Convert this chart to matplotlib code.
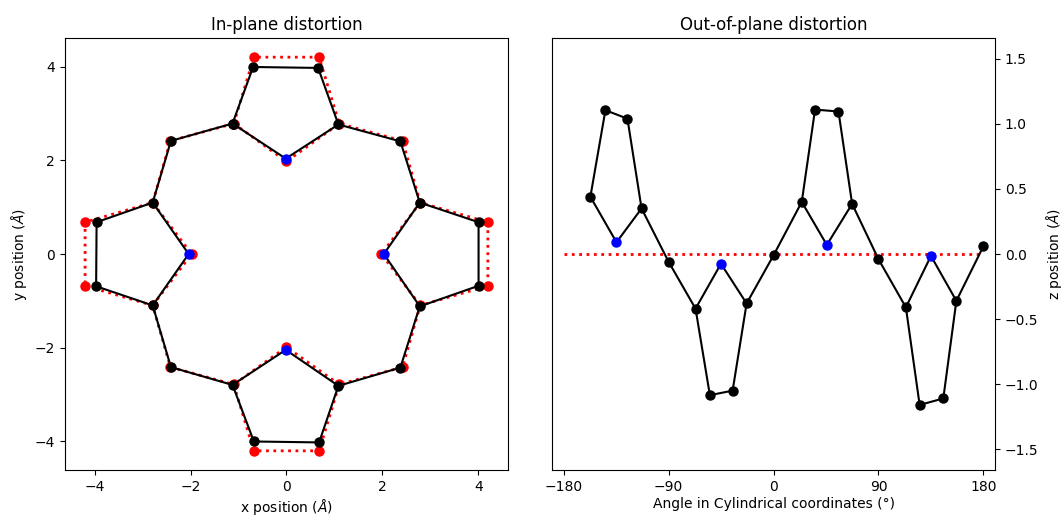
import numpy as np
import matplotlib
matplotlib.use('Agg')
import matplotlib.pyplot as plt

# in-plane positions of the 20 ring carbons (alpha, beta, beta, alpha, meso, ...)
ring_x = [-1.125, -0.696, 0.66, 1.083, 2.375, 2.78, 4.006, 4.006, 2.78, 2.375,
          1.083, 0.68, -0.68, -1.125, -2.41, -2.79, -3.97, -3.96, -2.79, -2.41]
ring_y = [2.79, 4.0, 3.98, 2.77, 2.41, 1.10, 0.68, -0.68, -1.12, -2.43,
          -2.82, -4.03, -4.01, -2.80, -2.42, -1.10, -0.69, 0.68, 1.10, 2.42]
n_x = [-0.015, 2.03, -0.015, -2.04]
n_y = [2.04, 0.0, -2.05, 0.0]

# reference (ideal) structure
ref_x = [-1.10, -0.68, 0.68, 1.10, 2.42, 2.79, 4.20, 4.20, 2.79, 2.42,
         1.10, 0.68, -0.68, -1.10, -2.42, -2.79, -4.20, -4.20, -2.79, -2.42]
ref_y = [2.79, 4.21, 4.21, 2.79, 2.42, 1.10, 0.68, -0.68, -1.10, -2.42,
         -2.79, -4.21, -4.21, -2.79, -2.42, -1.10, -0.68, 0.68, 1.10, 2.42]
ref_n_x = [0.0, 1.98, 0.0, -1.98]
ref_n_y = [1.98, 0.0, -1.99, 0.0]

# out-of-plane: angle (deg) and z for the ring carbons and N
ang = [-157.1, -144.2, -125.3, -113.2, -90.0, -66.9, -54.6, -35.1, -23.1, 0.0,
       24.2, 35.6, 55.7, 67.4, 90.0, 113.5, 125.3, 145.6, 156.8, 180.0]
z = [0.44, 1.105, 1.04, 0.35, -0.06, -0.42, -1.085, -1.05, -0.38, -0.01,
     0.40, 1.11, 1.095, 0.385, -0.04, -0.41, -1.16, -1.11, -0.36, 0.06]
n_ang = [-134.7, -45.1, 45.7, 135.0]
n_z = [0.09, -0.075, 0.07, -0.015]
plane_ang = [-180, 180]
plane_z = [0, 0]

fig = plt.figure(figsize=(10.63, 5.17), dpi=100)
ax1 = fig.add_axes([0.0611, 0.0909, 0.4168, 0.8356])
ax2 = fig.add_axes([0.5193, 0.0909, 0.4168, 0.8356])

# left panel
rx = ref_x + ref_x[:1]
ry = ref_y + ref_y[:1]
ax1.plot(rx, ry, 'r:', lw=2, marker='o', ms=6.5, zorder=1)
for k in range(4):
    i, j = 5 * k, 5 * k + 3
    ax1.plot([ref_x[i], ref_n_x[k], ref_x[j]], [ref_y[i], ref_n_y[k], ref_y[j]],
             'r:', lw=2, zorder=1)
ax1.plot(ref_n_x, ref_n_y, 'ro', ms=6.5, zorder=1)

bx = ring_x + ring_x[:1]
by = ring_y + ring_y[:1]
ax1.plot(bx, by, 'k-', lw=1.5, marker='o', ms=6.5, zorder=2)
for k in range(4):
    i, j = 5 * k, 5 * k + 3
    ax1.plot([ring_x[i], n_x[k], ring_x[j]], [ring_y[i], n_y[k], ring_y[j]],
             'k-', lw=1.5, zorder=2)
ax1.plot(n_x, n_y, 'o', color='blue', ms=6.5, zorder=3)

ax1.set_xlim(-4.62, 4.62)
ax1.set_ylim(-4.62, 4.62)
ax1.set_xticks([-4, -2, 0, 2, 4])
ax1.set_yticks([-4, -2, 0, 2, 4])
ax1.set_title('In-plane distortion')
ax1.set_xlabel(r'x position ($\AA$)', labelpad=2)
ax1.set_ylabel(r'y position ($\AA$)')

# right panel
ax2.plot(plane_ang, plane_z, 'r:', lw=2, zorder=1)
ax2.plot(ang, z, 'k-', lw=1.5, marker='o', ms=6.5, zorder=2)
for k in range(4):
    i, j = 5 * k, 5 * k + 3
    ax2.plot([ang[i], n_ang[k], ang[j]], [z[i], n_z[k], z[j]], 'k-', lw=1.5, zorder=2)
ax2.plot(n_ang, n_z, 'o', color='blue', ms=6.5, zorder=3)

ax2.set_xlim(-190, 190)
ax2.set_ylim(-1.66, 1.66)
ax2.set_xticks([-180, -90, 0, 90, 180])
ax2.set_yticks([-1.5, -1.0, -0.5, 0.0, 0.5, 1.0, 1.5])
ax2.yaxis.tick_right()
ax2.yaxis.set_label_position('right')
ax2.set_title('Out-of-plane distortion')
ax2.set_xlabel('Angle in Cylindrical coordinates (°)', labelpad=2)
ax2.set_ylabel(r'z position ($\AA$)')

fig.savefig('out.png', dpi=100)
